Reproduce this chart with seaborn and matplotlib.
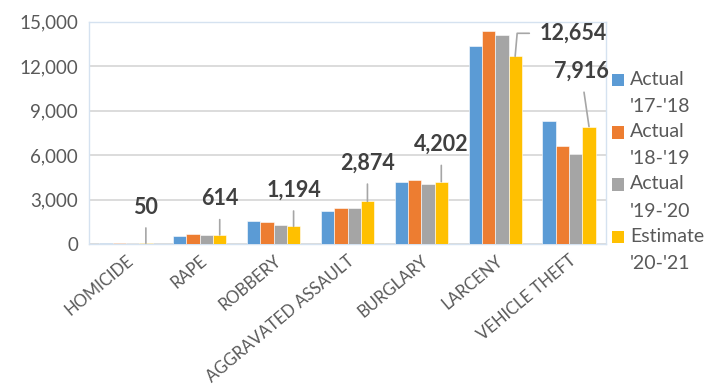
import matplotlib
matplotlib.use("Agg")
import matplotlib.pyplot as plt
import seaborn as sns
import pandas as pd
from matplotlib.patches import Patch, Rectangle
from matplotlib.legend_handler import HandlerPatch
from matplotlib.ticker import FuncFormatter

categories = ["HOMICIDE", "RAPE", "ROBBERY", "AGGRAVATED ASSAULT",
              "BURGLARY", "LARCENY", "VEHICLE THEFT"]
series_names = ["Actual\n'17-'18", "Actual\n'18-'19", "Actual\n'19-'20", "Estimate\n'20-'21"]
actual_17_18 = [45, 540, 1550, 2225, 4200, 13350, 8270]
actual_18_19 = [40, 674, 1460, 2450, 4315, 14340, 6585]
actual_19_20 = [48, 630, 1260, 2430, 4025, 14090, 6070]
estimate_20_21 = [50, 614, 1194, 2874, 4202, 12654, 7916]
colors = ["#5B9BD5", "#ED7D31", "#A5A5A5", "#FFC000"]
yticks = [0, 3000, 6000, 9000, 12000, 15000]

all_series = [actual_17_18, actual_18_19, actual_19_20, estimate_20_21]
rows = []
for name, vals in zip(series_names, all_series):
    for c, v in zip(categories, vals):
        rows.append({"category": c, "series": name, "value": v})
df = pd.DataFrame(rows)

sns.set_theme(style="white")
plt.rcParams["font.family"] = ["Lato", "DejaVu Sans"]

fig = plt.figure(figsize=(7.07, 3.85), dpi=100)
ax = fig.add_axes([89 / 707, 1 - 244 / 385, (606 - 89) / 707, (244 - 21.5) / 385])

sns.barplot(data=df, x="category", y="value", hue="series", order=categories,
            hue_order=series_names, palette=colors, saturation=1, width=0.72, gap=0,
            edgecolor="white", linewidth=0.4, ax=ax, legend=False, zorder=3)

ax.set_ylim(0, 15000)
ax.set_yticks(yticks)
ax.yaxis.set_major_formatter(FuncFormatter(lambda v, p: f"{int(v):,}"))
ax.grid(axis="y", color="#D9D9D9", linewidth=1.3, zorder=0)
ax.grid(axis="x", visible=False)
ax.set_axisbelow(True)
ax.set_xlabel("")
ax.set_ylabel("")
for s in ax.spines.values():
    s.set_color("#D5E2F0")
    s.set_linewidth(1.0)
ax.tick_params(axis="y", length=0, labelsize=13.5, labelcolor="#595959", pad=8)
ax.tick_params(axis="x", length=0, labelsize=12, labelcolor="#595959", pad=6)
plt.setp(ax.get_xticklabels(), rotation=40, ha="right", rotation_mode="anchor")

# data labels for estimate series
bar_cont = ax.containers[3]
offsets = [(0, 36), (0, 36), (0, 36), (0, 38), (0, 37), (58, 23), (-8, 55)]
for rect, val, (dx, dy) in zip(bar_cont.patches, estimate_20_21, offsets):
    xc = rect.get_x() + rect.get_width() / 2
    if dx > 20:
        cs = "angle,angleA=0,angleB=85,rad=0"
    else:
        cs = "arc3"
    ax.annotate(f"{val:,}", xy=(xc, val), xytext=(dx, dy), textcoords="offset pixels",
                ha="center", va="center", fontsize=15.5, fontweight="bold", color="#404040",
                arrowprops=dict(arrowstyle="-", color="#A6A6A6", lw=1.2,
                                shrinkA=5, shrinkB=0, connectionstyle=cs),
                zorder=5)

def make_patch(legend, orig_handle, xdescent, ydescent, width, height, fontsize):
    return Rectangle((-xdescent, -ydescent + 9.4), width, height)

handles = [Patch(facecolor=c, edgecolor="none") for c in colors]
leg = fig.legend(handles, series_names, loc="upper left",
                 bbox_to_anchor=(612 / 707, 1 - 71 / 385), frameon=False,
                 fontsize=14, handlelength=0.62, handleheight=0.62,
                 handletextpad=0.3, labelspacing=0.42, borderpad=0, borderaxespad=0,
                 handler_map={Patch: HandlerPatch(patch_func=make_patch)})
for t in leg.get_texts():
    t.set_color("#595959")
    t.set_linespacing(1.72)

fig.savefig("out.png", dpi=100)
